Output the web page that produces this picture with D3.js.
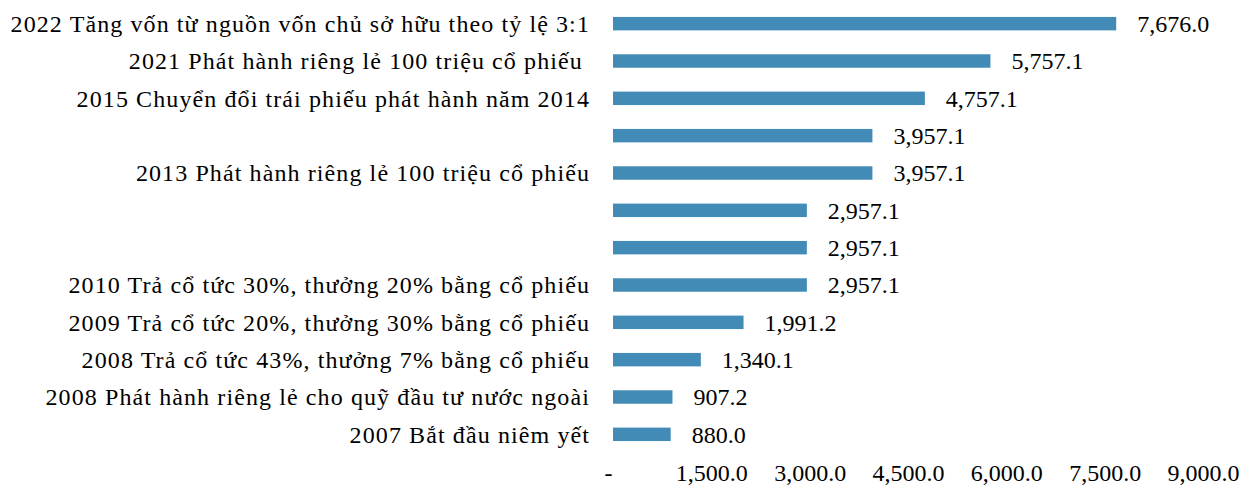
<!DOCTYPE html>
<html>
<head>
<meta charset="utf-8">
<script src="https://cdn.jsdelivr.net/npm/d3@7"></script>
<style>
    body { margin: 0; background: #fff; }
    svg text { font-family: "Liberation Serif", "Times New Roman", serif; fill: #000; white-space: pre; }
</style>
</head>
<body>
<div id="chart"></div>
<script>
const categories = [
    "2022 Tăng vốn từ nguồn vốn chủ sở hữu theo tỷ lệ 3:1",
    "2021 Phát hành riêng lẻ 100 triệu cổ phiếu ",
    "2015 Chuyển đổi trái phiếu phát hành năm 2014",
    "",
    "2013 Phát hành riêng lẻ 100 triệu cổ phiếu",
    "",
    "",
    "2010 Trả cổ tức 30%, thưởng 20% bằng cổ phiếu",
    "2009 Trả cổ tức 20%, thưởng 30% bằng cổ phiếu",
    "2008 Trả cổ tức 43%, thưởng 7% bằng cổ phiếu",
    "2008 Phát hành riêng lẻ cho quỹ đầu tư nước ngoài",
    "2007 Bắt đầu niêm yết"
];
const values = [7676.0, 5757.1, 4757.1, 3957.1, 3957.1, 2957.1, 2957.1, 2957.1, 1991.2, 1340.1, 907.2, 880.0];
const xTicks = [0, 1500, 3000, 4500, 6000, 7500, 9000];

const width = 1249, height = 493;
const margin = { top: 5, right: 46, bottom: 40, left: 613 };

const svg = d3.select('#chart').append('svg')
    .attr('width', width).attr('height', height);

const x = d3.scaleLinear().domain([0, 9000]).range([margin.left, width - margin.right]);
const idx = categories.map((d, i) => i);
const y = d3.scaleBand().domain(idx).range([margin.top, 453]).paddingInner(0.64).paddingOuter(0.32);

const fmt = d3.format(',.1f');

svg.append('g').selectAll('rect')
    .data(values)
    .enter().append('rect')
    .attr('x', x(0))
    .attr('y', (d, i) => y(i))
    .attr('width', d => x(d) - x(0))
    .attr('height', y.bandwidth())
    .attr('fill', '#428bb6');

svg.append('g').selectAll('text')
    .data(values)
    .enter().append('text')
    .attr('x', d => x(d) + 21)
    .attr('y', (d, i) => y(i) + y.bandwidth() / 2)
    .attr('dy', '0.35em')
    .attr('font-size', 24)
    .text(d => fmt(d));

// category labels, slightly tracked to match the original
svg.append('g').selectAll('text')
    .data(categories)
    .enter().append('text')
    .attr('x', x(0) - 23)
    .attr('y', (d, i) => y(i) + y.bandwidth() / 2)
    .attr('dy', '0.35em')
    .attr('text-anchor', 'end')
    .attr('font-size', 24)
    .attr('letter-spacing', '1.1px')
    .text(d => d);

const xAxis = svg.append('g')
    .attr('transform', 'translate(0,464)')
    .call(d3.axisBottom(x).tickValues(xTicks).tickSize(0).tickPadding(0)
        .tickFormat(d => d === 0 ? '-' : fmt(d)));
xAxis.select('.domain').remove();
xAxis.selectAll('text')
    .attr('font-size', 24)
    .attr('font-family', '"Liberation Serif", serif')
    .attr('dx', d => d === 0 ? -5 : 0);
</script>
</body>
</html>
